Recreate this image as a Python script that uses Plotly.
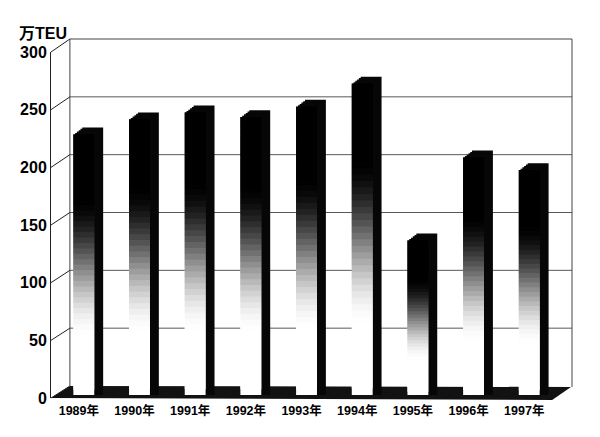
import plotly.graph_objects as go

years = ["1989年", "1990年", "1991年", "1992年", "1993年", "1994年", "1995年", "1996年", "1997年"]
values = [226, 239, 245, 241, 250, 270, 134, 206, 195]
y_ticks = [0, 50, 100, 150, 200, 250, 300]
unit_label = "万TEU"

# the page body has an 8px margin, so the figure is placed at (8, 8) in the window
OFF = 8
W, H = 600 - OFF, 437 - OFF
L, R, T, B = 48 - OFF, 28, 39 - OFF, 39


def px(x):  # window pixel x -> paper fraction
    return (x - OFF - L) / (W - L - R)


def py(y):  # window pixel y -> paper fraction
    return (OFF + H - B - y) / (H - T - B)


def front_y(v):
    return 398 - v * 346 / 300


def back_y(v):
    return 386 - v * 347 / 300


def gray(f):
    lo, hi = 0.22, 0.76
    if f <= lo:
        g = 255
    elif f >= hi:
        g = 0
    else:
        t = (f - lo) / (hi - lo)
        t = t * t * (3 - 2 * t)
        g = round(255 * (1 - t))
    return f"rgb({g},{g},{g})"


fig = go.Figure()

# invisible trace carrying the front axes (tick labels)
fig.add_trace(go.Scatter(x=years, y=[None] * len(years), mode="markers",
                         xaxis="x", yaxis="y", showlegend=False, hoverinfo="skip"))

bw = 0.375
depth_units = 6
side_shift = 0.16
steps = 5

# dark side/top block of each bar, stepped to imitate the slanted top
for j in range(steps, 0, -1):
    fig.add_trace(go.Bar(
        x=years, y=[v + depth_units * j / steps for v in values], base=[0] * len(values),
        width=bw, offset=-bw / 2 + side_shift * j / steps,
        marker=dict(color="#070707", line=dict(width=0)),
        xaxis="x2", yaxis="y2", showlegend=False, hoverinfo="skip"))

# gradient front faces
N = 48
gx, gbase, gy, gcol = [], [], [], []
for yr, v in zip(years, values):
    for k in range(N):
        gx.append(yr)
        gbase.append(v * k / N)
        gy.append(v / N * 2.0 if k < N - 1 else v / N)
        gcol.append(gray((k + 0.5) / N))
fig.add_trace(go.Bar(
    x=gx, y=gy, base=gbase, width=bw, offset=-bw / 2,
    marker=dict(color=gcol, line=dict(width=0)),
    xaxis="x2", yaxis="y2", showlegend=False, hoverinfo="skip"))

shapes = []
# floor
shapes.append(dict(type="path", xref="paper", yref="paper", layer="below",
                   path=f"M {px(48)},{py(398)} L {px(552)},{py(400)} L {px(571)},{py(387)} L {px(67)},{py(386)} Z",
                   fillcolor="#121212", line=dict(width=0)))
# back wall grid lines
for v in y_ticks[1:-1]:
    shapes.append(dict(type="line", xref="paper", yref="paper", layer="below",
                       x0=px(67), x1=px(572), y0=py(back_y(v)), y1=py(back_y(v)),
                       line=dict(color="#585858", width=1)))
# back wall border
shapes.append(dict(type="path", xref="paper", yref="paper", layer="below",
                   path=f"M {px(67)},{py(386)} L {px(67)},{py(back_y(300))} L {px(572)},{py(back_y(300))} L {px(572)},{py(387)}",
                   line=dict(color="#444", width=1)))
# side wall diagonal lines
for v in y_ticks:
    shapes.append(dict(type="line", xref="paper", yref="paper", layer="below",
                       x0=px(48), x1=px(67), y0=py(front_y(v)), y1=py(back_y(v)),
                       line=dict(color="#222", width=1)))

fig.update_layout(
    width=W, height=H,
    margin=dict(l=L, r=R, t=T, b=B),
    paper_bgcolor="white", plot_bgcolor="rgba(0,0,0,0)",
    barmode="overlay",
    showlegend=False,
    shapes=shapes,
    xaxis=dict(domain=[0, px(552)], type="category", categoryorder="array", categoryarray=years,
               range=[-0.5, len(years) - 0.5], showgrid=False, zeroline=False, showline=False,
               ticks="", ticklabelstandoff=3,
               tickfont=dict(family="Liberation Sans, Noto Sans CJK SC", size=12.5,
                             color="black", weight="bold"), anchor="y"),
    yaxis=dict(domain=[0, py(52)], range=[0, 300], tickvals=y_ticks, showgrid=False,
               zeroline=False, showline=True, linecolor="#222", linewidth=1, ticks="",
               tickfont=dict(family="Liberation Sans, Arial", size=16, color="black", weight="bold"),
               anchor="x"),
    xaxis2=dict(domain=[px(53), px(557)], type="category", categoryorder="array", categoryarray=years,
                range=[-0.5, len(years) - 0.5], visible=False, anchor="y2"),
    yaxis2=dict(domain=[py(395), py(49)], range=[0, 300], visible=False, anchor="x2"),
    annotations=[dict(text=unit_label, xref="paper", yref="paper", x=px(14), y=py(34),
                      xanchor="left", yanchor="middle", showarrow=False,
                      font=dict(family="Liberation Sans, Noto Sans CJK SC", size=16,
                                color="black", weight="bold"))],
)

fig.write_html("out.html")
